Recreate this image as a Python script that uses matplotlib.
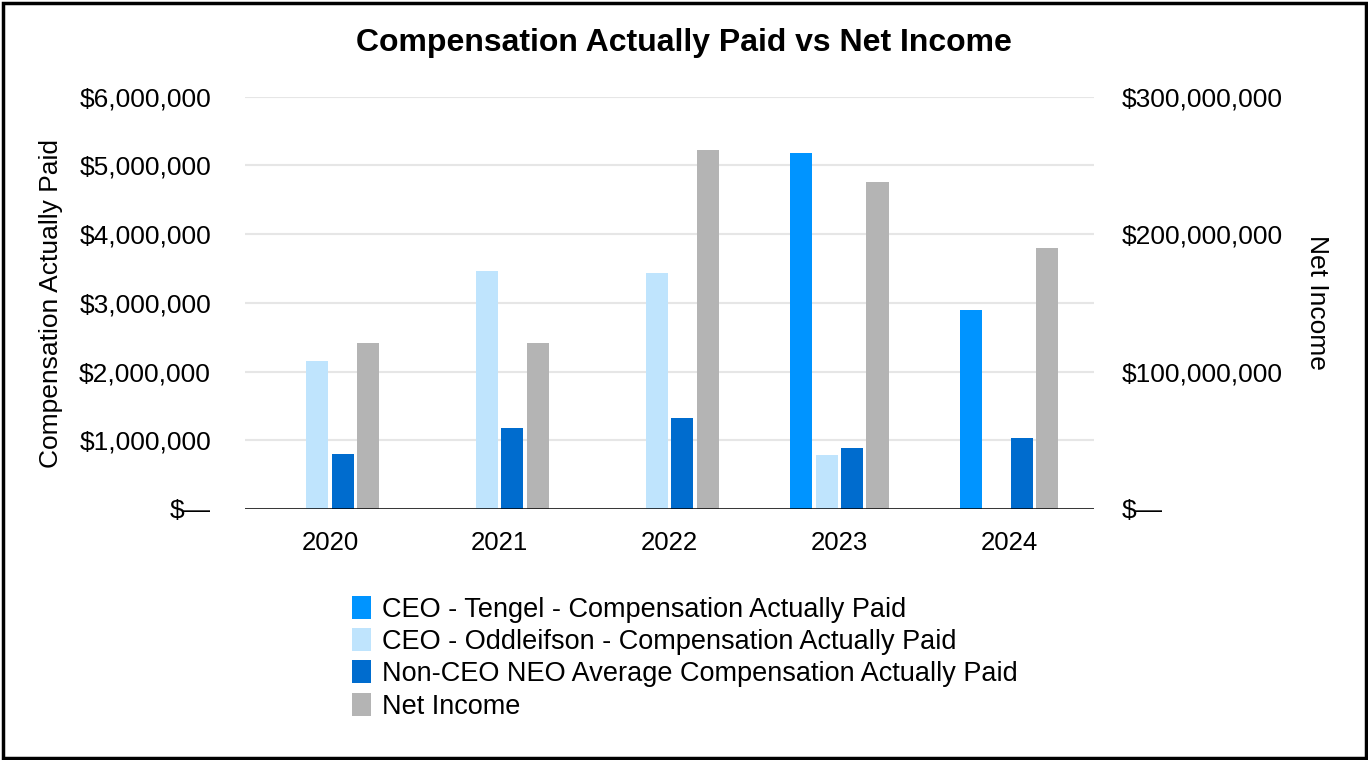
import numpy as np
import matplotlib
matplotlib.use("Agg")
import matplotlib.pyplot as plt
from matplotlib.ticker import FuncFormatter, MultipleLocator
from matplotlib.patches import Rectangle

plt.rcParams['font.family'] = ['Liberation Sans', 'DejaVu Sans']

years = ["2020", "2021", "2022", "2023", "2024"]
tengel_cap = [np.nan, np.nan, np.nan, 5180000, 2900000]
oddleifson_cap = [2150000, 3460000, 3430000, 780000, np.nan]
neo_avg_cap = [800000, 1180000, 1330000, 890000, 1030000]
net_income = [120500000, 120500000, 261500000, 238000000, 190000000]

series_names = [
    "CEO - Tengel - Compensation Actually Paid",
    "CEO - Oddleifson - Compensation Actually Paid",
    "Non-CEO NEO Average Compensation Actually Paid",
    "Net Income",
]
colors = ["#0094ff", "#bfe4fd", "#006cce", "#b4b4b4"]

W, H = 1368, 760
fig = plt.figure(figsize=(W / 100, H / 100), dpi=100)
ax = fig.add_axes([245 / W, 1 - 509 / H, (1094 - 245) / W, (509 - 96.7) / H])
ax2 = ax.twinx()

x = np.arange(len(years))
pitch = 0.15
width = 0.13
offsets = np.array([-1.5, -0.5, 0.5, 1.5]) * pitch

handles = []
for vals, off, col, name in zip([tengel_cap, oddleifson_cap, neo_avg_cap], offsets[:3], colors[:3], series_names[:3]):
    h = ax.bar(x + off, vals, width, color=col, label=name, zorder=3)
    handles.append(h)
h = ax2.bar(x + offsets[3], net_income, width, color=colors[3], label=series_names[3], zorder=3)
handles.append(h)

ax.set_xlim(-0.5, len(years) - 0.5)
ax.set_ylim(0, 6000000)
ax2.set_ylim(0, 300000000)
ax.yaxis.set_major_locator(MultipleLocator(1000000))
ax2.yaxis.set_major_locator(MultipleLocator(100000000))


def money(v, pos):
    if v == 0:
        return "$\u2014"
    return "$" + format(v, ",.0f")


ax.yaxis.set_major_formatter(FuncFormatter(money))
ax2.yaxis.set_major_formatter(FuncFormatter(money))

ax.grid(axis="y", color="#e6e6e6", linewidth=1.5, zorder=0)
ax.set_axisbelow(True)
for a in (ax, ax2):
    for s in a.spines.values():
        s.set_visible(False)
    a.tick_params(length=0, labelsize=19, colors="black")
ax.tick_params(axis="y", pad=24.5)
ax2.tick_params(axis="y", pad=20)
ax.tick_params(axis="x", pad=15.5, labelsize=18.5)
ax.set_xticks(x)
ax.set_xticklabels(years)
ax2.axhline(0, color="black", linewidth=1.8, zorder=5)

fig.text(0.5, 1 - 43 / H, "Compensation Actually Paid vs Net Income",
         ha="center", va="center", fontsize=23, fontweight="bold")
fig.text(51 / W, 1 - 304 / H, "Compensation Actually Paid", rotation=90,
         ha="center", va="center", fontsize=19)
fig.text(1317 / W, 1 - 302 / H, "Net Income", rotation=270,
         ha="center", va="center", fontsize=19)

fig.legend(handles=handles, labels=series_names, loc="upper left",
           bbox_to_anchor=(352 / W, 1 - 596 / H), frameon=False,
           fontsize=19.5, handlelength=0.7, handleheight=0.93,
           handletextpad=0.4, labelspacing=0.2, borderpad=0, borderaxespad=0)

fig.patches.append(Rectangle((2.5 / W, 2.5 / H), (W - 5) / W, (H - 5) / H,
                             transform=fig.transFigure, fill=False,
                             edgecolor="black", linewidth=2.5))

fig.savefig("out.png", dpi=100)
